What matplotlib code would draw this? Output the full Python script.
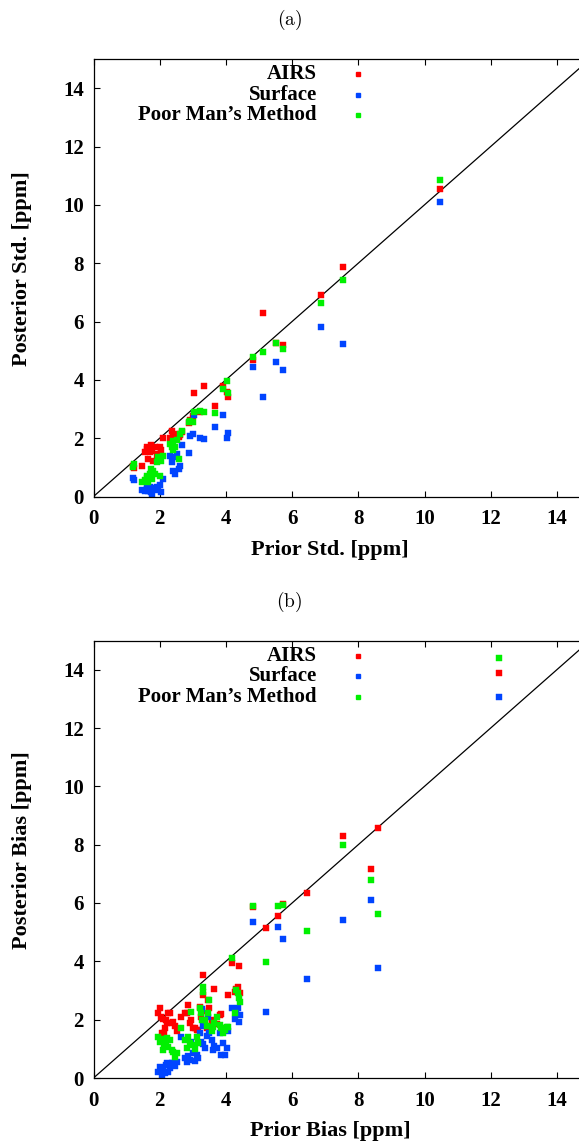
#!/usr/bin/env python
"""Posterior vs prior std. / bias for AIRS, Surface and Poor Man's Method."""
import matplotlib
matplotlib.use("Agg")
import matplotlib.pyplot as plt
import numpy as np

# ---- panel (a): prior std. vs posterior std. [ppm] (same stations for all 3)
prior_std = [10.47, 7.54, 6.87, 5.73, 5.51, 5.12, 4.81, 4.06, 4.02, 3.92,
             3.67, 3.34, 3.22, 3.04, 3.00, 2.92, 2.89,
             2.67, 2.61, 2.58, 2.53, 2.47, 2.41, 2.39, 2.36, 2.31, 2.11,
             2.05, 2.01, 1.96, 1.91, 1.86, 1.81, 1.76, 1.74, 1.71, 1.66,
             1.63, 1.61, 1.56, 1.46, 1.22, 1.20]
post_std_airs = [10.54, 7.88, 6.92, 5.21, 5.25, 6.30, 4.68, 3.41, 3.60, 3.80,
                 3.12, 3.80, 2.90, 3.54, 2.77, 2.63, 2.53,
                 2.20, 2.10, 2.05, 2.15, 2.00, 2.05, 2.10, 2.24, 2.00, 2.01,
                 1.58, 1.70, 1.45, 1.35, 1.69, 1.23, 1.55, 1.78, 1.52, 1.29,
                 1.62, 1.69, 1.52, 1.06, 0.98, 1.06]
post_std_surface = [10.09, 5.24, 5.82, 4.35, 4.62, 3.42, 4.43, 2.17, 2.01, 2.81,
                    2.37, 1.98, 2.01, 2.78, 2.15, 2.09, 1.50,
                    1.77, 1.03, 0.95, 1.47, 0.78, 1.37, 0.89, 1.17, 1.40, 0.60,
                    0.15, 0.40, 0.30, 0.34, 0.21, 0.28, 0.09, 0.14, 0.32, 0.20,
                    0.26, 0.38, 0.18, 0.21, 0.58, 0.62]
post_std_pmm = [10.85, 7.43, 6.64, 5.07, 5.27, 4.94, 4.80, 3.56, 3.97, 3.69,
                2.85, 2.89, 2.92, 2.89, 2.54, 2.60, 2.55,
                2.26, 2.13, 1.27, 1.95, 1.70, 1.92, 1.58, 1.69, 1.80, 1.40,
                1.23, 0.72, 1.35, 1.17, 0.78, 0.89, 0.61, 0.95, 0.78, 0.49,
                0.70, 0.65, 0.55, 0.50, 1.10, 1.02]

# ---- panel (b): prior bias vs posterior bias [ppm]
prior_bias = [12.26, 8.60, 8.37, 7.55, 6.44, 5.72, 5.58, 5.21, 4.83,
              4.43, 4.41, 4.37, 4.30, 4.27, 4.17, 4.07, 4.02,
              3.97, 3.92, 3.84, 3.82, 3.72, 3.64, 3.62, 3.57, 3.49, 3.47,
              3.42, 3.37, 3.32, 3.30, 3.27, 3.25, 3.22,
              3.17, 3.12, 3.07, 3.02, 2.95, 2.92, 2.86, 2.82, 2.76, 2.63,
              2.51, 2.46, 2.41, 2.36, 2.31, 2.26, 2.21, 2.19, 2.16, 2.13,
              2.11, 2.06, 2.04, 2.01, 1.96]
post_bias_airs = [13.90, 8.57, 7.16, 8.29, 6.35, 5.97, 5.55, 5.13, 5.88,
                  2.90, 3.84, 3.11, 3.05, 2.95, 3.93, 2.86, 1.64,
                  1.65, 1.70, 2.19, 2.16, 1.85, 3.04, 2.00, 1.90, 2.40, 2.67,
                  1.70, 1.93, 2.85, 3.53, 2.30, 2.10, 2.45,
                  1.64, 1.64, 1.70, 1.70, 2.00, 1.87, 2.50, 2.22, 2.22, 2.10,
                  1.60, 1.80, 1.93, 1.87, 2.22, 2.22, 1.87, 2.00, 1.70, 1.53,
                  2.04, 1.53, 2.10, 2.39, 2.22]
post_bias_surface = [13.05, 3.78, 6.11, 5.43, 3.41, 4.75, 5.18, 2.27, 5.35,
                     2.16, 1.93, 2.39, 2.20, 2.04, 2.39, 1.60, 1.02,
                     0.79, 1.20, 0.80, 1.53, 1.02, 1.10, 0.96, 1.30, 1.53, 2.08,
                     1.45, 1.02, 1.15, 1.80, 2.35, 1.25, 1.53,
                     0.70, 0.80, 0.60, 0.87, 1.25, 0.62, 0.75, 0.56, 0.67, 1.41,
                     0.56, 0.40, 0.50, 0.50, 0.33, 0.22, 0.50, 0.45, 0.16, 0.20,
                     0.27, 0.10, 0.30, 0.39, 0.22]
post_bias_pmm = [14.41, 5.61, 6.80, 7.98, 5.03, 5.92, 5.89, 3.97, 5.89,
                 2.61, 2.75, 2.90, 3.01, 2.22, 4.10, 1.75, 1.76,
                 1.64, 1.53, 1.70, 1.82, 2.10, 1.90, 1.75, 1.60, 2.67, 2.22,
                 1.80, 2.00, 2.96, 3.13, 2.00, 2.24, 2.39,
                 1.20, 1.41, 1.00, 1.13, 2.27, 1.19, 1.41, 1.02, 1.30, 1.70,
                 0.85, 0.73, 0.90, 0.96, 1.30, 1.07, 1.36, 1.20, 1.13, 1.10,
                 0.96, 1.30, 1.35, 1.24, 1.41]

SERIES = ["AIRS", "Surface", "Poor Man\u2019s Method"]
COLORS = ["#ff0000", "#0044ff", "#00f000"]
FONT = "Liberation Serif"
FS = 15
plt.rcParams["mathtext.fontset"] = "cm"

W, H = 579, 1141
fig = plt.figure(figsize=(W / 100, H / 100), dpi=100)


def panel(bottom_px, prior, posts, xlabel, ylabel, tag, tag_px):
    ax_h = 437.5
    ax = fig.add_axes([93.5 / W, 1 - bottom_px / H, 496.5 / W, ax_h / H])
    ax.plot([0, 15], [0, 15], color="black", lw=0.9, zorder=1)
    for post, c in zip(posts, COLORS):
        ax.plot(prior, post, "s", color=c, ms=5.0, mec=c, mew=0.3,
                ls="none", zorder=2)
    ax.set_xlim(0, 15)
    ax.set_ylim(0, 15)
    ax.set_xticks(np.arange(0, 15, 2))
    ax.set_yticks(np.arange(0, 15, 2))
    ax.tick_params(direction="in", length=4.5, width=0.8, top=True,
                   right=False, labelsize=FS, pad=9)
    ax.tick_params(axis="y", pad=7)
    for t in ax.get_xticklabels() + ax.get_yticklabels():
        t.set_fontfamily(FONT)
        t.set_fontweight("bold")
    for s in ax.spines.values():
        s.set_linewidth(0.9)
    ax.spines["right"].set_visible(False)

    # gnuplot-style key: right aligned text, marker to the right
    for i, (name, c) in enumerate(zip(SERIES, COLORS)):
        yk = 0.9655 - i * 0.047
        ax.text(0.450, yk, name, transform=ax.transAxes, ha="right",
                va="center", family=FONT, fontweight="bold", fontsize=FS)
        ax.plot([0.532], [yk], "s", color=c, ms=3.2, transform=ax.transAxes,
                clip_on=False)

    ax.text(0.476, -0.122, xlabel, transform=ax.transAxes, ha="center",
            va="center", family=FONT, fontweight="bold", fontsize=FS + 1)
    ax.text(-0.144, 0.52, ylabel, transform=ax.transAxes, ha="center",
            va="center", rotation=90, family=FONT, fontweight="bold",
            fontsize=FS + 1)
    fig.text(0.5, 1 - tag_px / H, r"$\mathrm{(%s)}$" % tag, ha="center",
             va="center", fontsize=14)
    return ax


panel(496.5, prior_std, [post_std_airs, post_std_surface, post_std_pmm],
      "Prior Std. [ppm]", "Posterior Std. [ppm]", "a", 20)
panel(1078, prior_bias, [post_bias_airs, post_bias_surface, post_bias_pmm],
      "Prior Bias [ppm]", "Posterior Bias [ppm]", "b", 602)

fig.savefig("out.png", dpi=100)
